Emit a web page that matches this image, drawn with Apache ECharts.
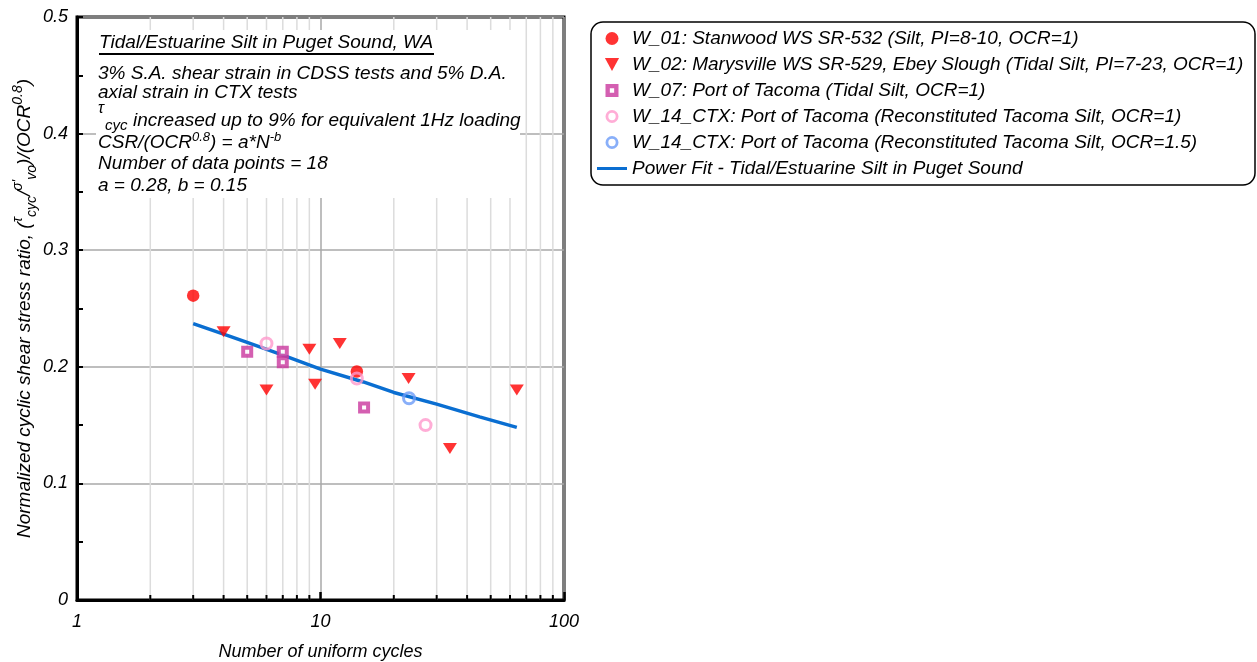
<!DOCTYPE html>
<html>
<head>
<meta charset="utf-8">
<script src="https://cdn.jsdelivr.net/npm/echarts@6/dist/echarts.min.js"></script>
<style>
html,body{margin:0;padding:0;background:#fff;}
#chart{width:1257px;height:662px;}
</style>
</head>
<body>
<div id="chart"></div>
<script>
// ---- data ----
const w01Cycles = [3.0, 14.1];
const w01Csr = [0.261, 0.196];
const w02Cycles = [4.0, 6.0, 9.0, 9.5, 12.0, 23.0, 34.0, 64.0];
const w02Csr = [0.230, 0.180, 0.215, 0.185, 0.220, 0.190, 0.130, 0.180];
const w07Cycles = [5.0, 7.0, 7.0, 15.1];
const w07Csr = [0.213, 0.213, 0.204, 0.165];
const w14aCycles = [6.0, 14.1, 27.0];
const w14aCsr = [0.220, 0.190, 0.150];
const w14bCycles = [23.1];
const w14bCsr = [0.173];
const fitCycles = [3, 4, 5, 7, 10, 15, 20, 30, 45, 64];
const fitCsr = [0.237, 0.228, 0.221, 0.210, 0.198, 0.187, 0.178, 0.168, 0.157, 0.148];
const minorXTicks = [2, 3, 4, 5, 6, 7, 8, 9, 20, 30, 40, 50, 60, 70, 80, 90];
const seriesNames = [
  'W_01: Stanwood WS SR-532 (Silt, PI=8-10, OCR=1)',
  'W_02: Marysville WS SR-529, Ebey Slough (Tidal Silt, PI=7-23, OCR=1)',
  'W_07: Port of Tacoma (Tidal Silt, OCR=1)',
  'W_14_CTX: Port of Tacoma (Reconstituted Tacoma Silt, OCR=1)',
  'W_14_CTX: Port of Tacoma (Reconstituted Tacoma Silt, OCR=1.5)',
  'Power Fit - Tidal/Estuarine Silt in Puget Sound'
];

const zip = (a, b) => a.map((v, i) => [v, b[i]]);
const FONT = '"Liberation Sans", Arial, sans-serif';
const RED = '#ff0000', MAG = '#c9379e', PINK = '#ff99cc', LBLUE = '#6b9bf7', FIT = '#0a6ed1';
const RING = 'path://M6,0 A6,6 0 1,1 5.99,0 Z M6,2.6 A3.4,3.4 0 1,0 6.01,2.6 Z';
const chart = echarts.init(document.getElementById('chart'));

const option = {
  animation: false,
  backgroundColor: '#fff',
  textStyle: { fontFamily: FONT },
  grid: { left: 77, right: 693, top: 17, bottom: 62, show: true, borderColor: '#000', borderWidth: 3, backgroundColor: 'transparent', containLabel: false, outerBoundsMode: 'none' },
  xAxis: {
    type: 'log', logBase: 10, min: 1, max: 100,
    name: 'Number of uniform cycles', nameLocation: 'middle', nameGap: 43,
    nameTextStyle: { fontSize: 18, fontStyle: 'italic', color: '#000', fontFamily: FONT },
    axisLine: { show: true, lineStyle: { color: '#000', width: 3 } },
    axisTick: { show: true, inside: true, length: 8, lineStyle: { color: '#000', width: 2.5 } },
    axisLabel: { fontSize: 18, fontStyle: 'italic', color: '#000', margin: 13, fontFamily: FONT, formatter: v => String(v) },
    splitLine: { show: true, lineStyle: { color: '#a8a8a8', width: 1.5 } }
  },
  yAxis: {
    type: 'value', min: 0, max: 0.5, interval: 0.1,
    name: '{n|Normalized cyclic shear stress ratio, (}{sup|τ}{sub|cyc}{n|/}{sup|σ\'}{sub|vo}{n|)/(OCR}{sup|0.8}{n|)}',
    nameLocation: 'middle', nameGap: 28, nameRotate: 90,
    nameTextStyle: {
      fontSize: 19, fontStyle: 'italic', color: '#000', fontFamily: FONT,
      rich: {
        n: { fontSize: 19, fontStyle: 'italic', color: '#000', fontFamily: FONT, lineHeight: 28, verticalAlign: 'middle' },
        sup: { fontSize: 14, fontStyle: 'italic', color: '#000', fontFamily: FONT, lineHeight: 14, verticalAlign: 'top' },
        sub: { fontSize: 14, fontStyle: 'italic', color: '#000', fontFamily: FONT, lineHeight: 14, verticalAlign: 'bottom' }
      }
    },
    axisLine: { show: true, lineStyle: { color: '#000', width: 3 } },
    axisTick: { show: true, inside: true, length: 6, lineStyle: { color: '#000', width: 2 } },
    minorTick: { show: true, splitNumber: 2, length: 6, lineStyle: { color: '#000', width: 2 } },
    axisLabel: { fontSize: 18, fontStyle: 'italic', color: '#000', margin: 9, fontFamily: FONT, formatter: v => v === 0 ? '0' : v.toFixed(1) },
    splitLine: { show: true, lineStyle: { color: '#a8a8a8', width: 1.5 } }
  },
  legend: {
    orient: 'vertical', left: 597, top: 29, padding: 0,
    itemWidth: 30, itemHeight: 13, itemGap: 7,
    textStyle: { fontSize: 19, fontStyle: 'italic', color: '#000', fontFamily: FONT, lineHeight: 19 },
    data: [
      { name: seriesNames[0], icon: 'circle', itemStyle: { color: RED } },
      { name: seriesNames[1], icon: 'path://M0,0 L12,0 L6,11 Z', itemStyle: { color: RED } },
      { name: seriesNames[2], icon: 'path://M0,0 H12 V12 H0 Z M4,4 V8 H8 V4 Z', itemStyle: { color: MAG, borderWidth: 0 } },
      { name: seriesNames[3], icon: RING, itemStyle: { color: PINK, borderWidth: 0 } },
      { name: seriesNames[4], icon: RING, itemStyle: { color: LBLUE, borderWidth: 0 } },
      { name: seriesNames[5], icon: 'path://M0,0 H30 V3 H0 Z', itemStyle: { color: FIT } }
    ]
  },
  graphic: [
    { type: 'rect', z: 0, shape: { x: 591, y: 22, width: 664, height: 163, r: 12 }, style: { fill: '#fff', stroke: '#000', lineWidth: 1.5 } },
    { type: 'rect', z: 10, shape: { x: 96, y: 30, width: 424, height: 168 }, style: { fill: '#fff' } },
    { type: 'text', z: 11, x: 99, y: 43, style: { text: 'Tidal/Estuarine Silt in Puget Sound, WA', font: 'italic 19px ' + FONT, fill: '#000', verticalAlign: 'middle' } },
    { type: 'line', z: 11, shape: { x1: 99, y1: 54, x2: 434, y2: 54 }, style: { stroke: '#000', lineWidth: 2 } },
    { type: 'text', z: 11, x: 98, y: 74, style: { text: '3% S.A. shear strain in CDSS tests and 5% D.A.', font: 'italic 19px ' + FONT, fill: '#000', verticalAlign: 'middle' } },
    { type: 'text', z: 11, x: 98, y: 93, style: { text: 'axial strain in CTX tests', font: 'italic 19px ' + FONT, fill: '#000', verticalAlign: 'middle' } },
    { type: 'text', z: 11, x: 98, y: 109, style: { text: 'τ', font: 'italic 16px ' + FONT, fill: '#000', verticalAlign: 'middle' } },
    { type: 'text', z: 11, x: 105, y: 126, style: { text: 'cyc', font: 'italic 15px ' + FONT, fill: '#000', verticalAlign: 'middle' } },
    { type: 'text', z: 11, x: 133, y: 121, style: { text: 'increased up to 9% for equivalent 1Hz loading', font: 'italic 19px ' + FONT, fill: '#000', verticalAlign: 'middle' } },
    { type: 'text', z: 11, x: 98, y: 143, style: {
        text: '{n|CSR/(OCR}{sup|0.8}{n|) = a*N}{sup|-b}', fill: '#000', verticalAlign: 'middle',
        rich: {
          n: { font: 'italic 19px ' + FONT, lineHeight: 24, verticalAlign: 'middle' },
          sup: { font: 'italic 13px ' + FONT, lineHeight: 13, verticalAlign: 'top' }
        } } },
    { type: 'text', z: 11, x: 98, y: 164, style: { text: 'Number of data points = 18', font: 'italic 19px ' + FONT, fill: '#000', verticalAlign: 'middle' } },
    { type: 'text', z: 11, x: 98, y: 186, style: { text: 'a = 0.28, b = 0.15', font: 'italic 19px ' + FONT, fill: '#000', verticalAlign: 'middle' } }
  ],
  series: [
    {
      type: 'custom', name: 'minorGrid', silent: true, z: 1,
      data: minorXTicks.map(v => [v, 0]),
      renderItem: function (params, api) {
        const p = api.coord([api.value(0), 0]);
        const t = api.coord([api.value(0), 0.5]);
        return {
          type: 'group',
          children: [
            { type: 'line', shape: { x1: p[0], y1: p[1], x2: t[0], y2: t[1] }, style: { stroke: '#dcdcdc', lineWidth: 1.5 } },
            { type: 'line', shape: { x1: p[0], y1: p[1], x2: p[0], y2: p[1] - 5 }, style: { stroke: '#000', lineWidth: 2 } }
          ]
        };
      }
    },
    {
      type: 'line', name: seriesNames[5], data: zip(fitCycles, fitCsr), symbol: 'none', smooth: false, z: 3,
      lineStyle: { color: FIT, width: 3.5 }, itemStyle: { color: FIT }
    },
    {
      type: 'scatter', name: seriesNames[0], data: zip(w01Cycles, w01Csr), symbol: 'circle', symbolSize: 12.5, z: 4,
      itemStyle: { color: RED }
    },
    {
      type: 'scatter', name: seriesNames[1], data: zip(w02Cycles, w02Csr), symbol: 'triangle', symbolRotate: 180, symbolSize: [14, 11], z: 4,
      itemStyle: { color: RED }
    },
    {
      type: 'scatter', name: seriesNames[2], data: zip(w07Cycles, w07Csr), symbol: 'rect', symbolSize: 8, z: 4,
      itemStyle: { color: '#fff', borderColor: MAG, borderWidth: 4 }
    },
    {
      type: 'scatter', name: seriesNames[3], data: zip(w14aCycles, w14aCsr), symbol: 'circle', symbolSize: 11, z: 4,
      itemStyle: { color: 'rgba(255,255,255,0)', borderColor: PINK, borderWidth: 3 }
    },
    {
      type: 'scatter', name: seriesNames[4], data: zip(w14bCycles, w14bCsr), symbol: 'circle', symbolSize: 11, z: 4,
      itemStyle: { color: 'rgba(255,255,255,0)', borderColor: LBLUE, borderWidth: 3 }
    }
  ]
};
chart.setOption(option);
</script>
</body>
</html>
